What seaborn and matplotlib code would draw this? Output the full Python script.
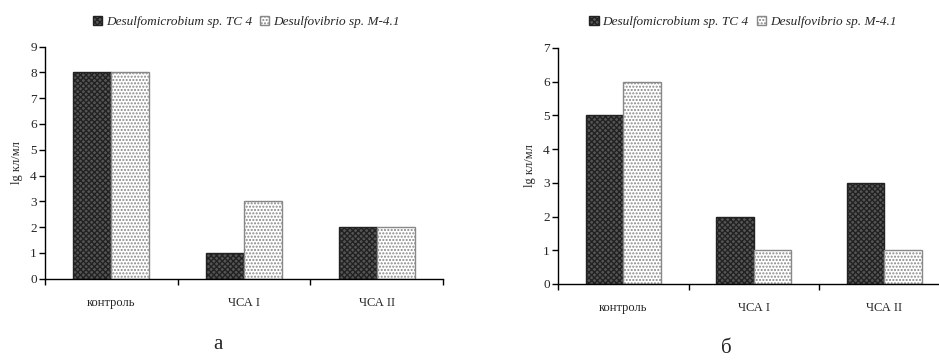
"""
Bacterial counts (lg cells/ml) for two SRB strains: control vs ЧСА I / ЧСА II.
"""

import pandas as pd
import matplotlib.pyplot as plt
import seaborn as sns
from matplotlib.patches import Patch

categories = ["контроль", "ЧСА I", "ЧСА II"]
strains = ["Desulfomicrobium sp. TC 4", "Desulfovibrio sp. M-4.1"]

# panel а
a_tc4 = [8, 1, 2]
a_m41 = [8, 3, 2]
# panel б
b_tc4 = [5, 2, 3]
b_m41 = [6, 1, 1]

ylabel = "lg кл/мл"
panel_labels = ["а", "б"]

SERIF = ["Liberation Serif", "DejaVu Serif"]
DARK = "#555555"
LIGHT = "#ffffff"


def make_frame(tc4, m41):
    rows = []
    for cat, v1, v2 in zip(categories, tc4, m41):
        rows.append({"cat": cat, "strain": strains[0], "val": v1})
        rows.append({"cat": cat, "strain": strains[1], "val": v2})
    return pd.DataFrame(rows)


def draw_panel(ax, df, ymax, tag, tag_x, tag_y, leg_x):
    sns.barplot(data=df, x="cat", y="val", hue="strain", hue_order=strains,
                palette=[DARK, LIGHT], width=0.575, saturation=1,
                edgecolor="black", linewidth=1.0, legend=False, ax=ax)
    n = len(categories)
    for i, p in enumerate(ax.patches):
        if i < n:
            p.set_hatch("xxxxxx")
            p.set_edgecolor("#222222")
        else:
            p.set_hatch(".....")
            p.set_edgecolor("#888888")
    ax.set_xlim(-0.5, n - 0.5)
    ax.set_ylim(0, ymax)
    ax.set_yticks(range(ymax + 1))
    ax.set_xticks(range(n))
    ax.set_xticklabels(categories, family=SERIF, fontsize=9)
    ax.set_xticks([i - 0.5 for i in range(n + 1)], minor=True)
    ax.tick_params(axis="x", which="major", bottom=False, length=0, pad=13)
    ax.tick_params(axis="x", which="minor", bottom=True, length=4, width=1,
                   direction="out", color="black")
    ax.tick_params(axis="y", left=True, length=4, width=1, direction="out",
                   color="black", labelsize=9.5, pad=2)
    for t in ax.get_yticklabels():
        t.set_family(SERIF)
    ax.set_xlabel("")
    ax.set_ylabel(ylabel, family=SERIF, fontsize=9, labelpad=5)
    for s in ("top", "right"):
        ax.spines[s].set_visible(False)
    for s in ("left", "bottom"):
        ax.spines[s].set_color("black")
        ax.spines[s].set_linewidth(1.0)
    ax.grid(False)

    handles = [Patch(facecolor=DARK, edgecolor="#222222", hatch="xxxxxx"),
               Patch(facecolor=LIGHT, edgecolor="#888888", hatch=".....")]
    fig.legend(handles, strains, loc="center", bbox_to_anchor=(leg_x, 0.94),
               ncol=2, frameon=False, handlelength=0.7, handleheight=0.7,
               handletextpad=0.3, columnspacing=0.6,
               prop={"family": SERIF, "style": "italic", "size": 9.5})
    fig.text(tag_x, tag_y, tag, family=SERIF, fontsize=15, ha="center", va="center")


sns.set_theme(style="white")
plt.rcParams["font.family"] = SERIF

fig = plt.figure(figsize=(9.39, 3.61), dpi=100)
ax1 = fig.add_axes([0.0479, 0.228, 0.4239, 0.643])
ax2 = fig.add_axes([0.5943, 0.2133, 0.417, 0.654])

draw_panel(ax1, make_frame(a_tc4, a_m41), 9, panel_labels[0], 0.232, 0.045, 0.262)
draw_panel(ax2, make_frame(b_tc4, b_m41), 7, panel_labels[1], 0.773, 0.035, 0.791)

fig.savefig("out.png", dpi=100)
